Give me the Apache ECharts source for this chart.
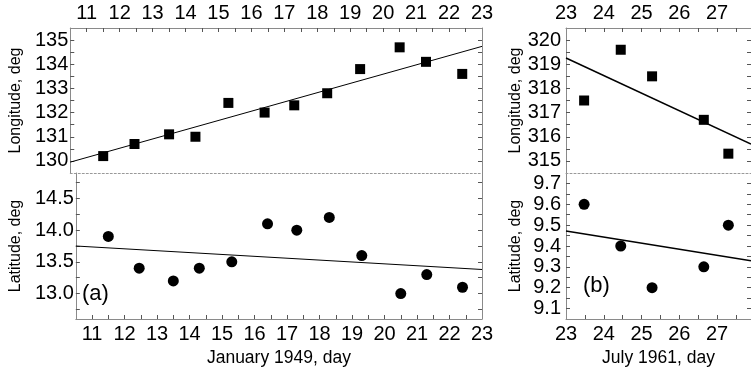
<!DOCTYPE html>
<html>
<head>
<meta charset="utf-8">
<script src="https://cdn.jsdelivr.net/npm/echarts@6/dist/echarts.min.js"></script>
<style>html,body{margin:0;padding:0;background:#fff;}#c{width:751px;height:371px;}</style>
</head>
<body>
<div id="c"></div>
<script>
// ---- Panel (a): January 1949 ----
const daysA = [11.5, 12.45, 13.5, 14.3, 15.3, 16.4, 17.3, 18.3, 19.3, 20.5, 21.3, 22.4];
const lonA  = [130.2, 130.7, 131.1, 131.0, 132.4, 132.0, 132.3, 132.8, 133.8, 134.7, 134.1, 133.6];
const latA  = [13.9, 13.4, 13.2, 13.4, 13.5, 14.1, 14.0, 14.2, 13.6, 13.0, 13.3, 13.1];
const fitLonA = [[10.5, 129.95], [23, 134.74]];
const fitLatA = [[10.5, 13.75], [23, 13.38]];
// ---- Panel (b): July 1961 ----
const daysB = [23.48, 24.45, 25.28, 26.65, 27.3];
const lonB  = [317.5, 319.6, 318.5, 316.7, 315.3];
const latB  = [9.6, 9.4, 9.2, 9.3, 9.5];
const fitLonB = [[23, 319.26], [27.9, 315.70]];
const fitLatB = [[23, 9.472], [27.9, 9.329]];

// ---- tick labels and tick marks ----
const xLabelsA = [11, 12, 13, 14, 15, 16, 17, 18, 19, 20, 21, 22, 23];
const xTicksA = [11, 11.5, 12, 12.5, 13, 13.5, 14, 14.5, 15, 15.5, 16, 16.5, 17, 17.5, 18, 18.5, 19, 19.5, 20, 20.5, 21, 21.5, 22, 22.5];
const xLabelsB = [23, 24, 25, 26, 27];
const xTicksB = [23.5, 24, 24.5, 25, 25.5, 26, 26.5, 27, 27.5];
const yLabelsLonA = [130, 131, 132, 133, 134, 135];
const yTicksLonA = [130, 130.5, 131, 131.5, 132, 132.5, 133, 133.5, 134, 134.5, 135];
const yLabelsLatA = [13.0, 13.5, 14.0, 14.5];
const yTicksLatA = [12.75, 13.0, 13.25, 13.5, 13.75, 14.0, 14.25, 14.5, 14.75];
const yLabelsLonB = [315, 316, 317, 318, 319, 320];
const yTicksLonB = [315, 315.5, 316, 316.5, 317, 317.5, 318, 318.5, 319, 319.5, 320];
const yLabelsLatB = [9.1, 9.2, 9.3, 9.4, 9.5, 9.6, 9.7];
const yTicksLatB = [9.1, 9.15, 9.2, 9.25, 9.3, 9.35, 9.4, 9.45, 9.5, 9.55, 9.6, 9.65, 9.7];

const FONT = '"Liberation Sans", Arial, Helvetica, sans-serif';
const AXC = '#8a8a8a';
const TKC = '#555';
const zip = (xs, ys) => xs.map((x, i) => [x, ys[i]]);

function xAx(grid, pos, min, max, labels, ticks, show, name) {
  const a = {
    type: 'value', gridIndex: grid, position: pos, min: min, max: max,
    axisLine: { show: true, onZero: false, lineStyle: { color: AXC, width: 1 } },
    axisTick: { show: show, inside: true, length: 4, customValues: ticks, lineStyle: { color: TKC } },
    axisLabel: { show: show, customValues: labels, margin: 5, color: '#000', fontSize: 20, fontFamily: FONT },
    splitLine: { show: false }
  };
  if (name) {
    a.name = name; a.nameLocation = 'middle'; a.nameGap = 30;
    a.nameTextStyle = { color: '#000', fontSize: 17.5, fontFamily: FONT };
  }
  return a;
}
function sepAx(grid, min, max) {
  return {
    type: 'value', gridIndex: grid, position: 'bottom', min: min, max: max,
    axisLine: { show: true, onZero: false, lineStyle: { color: '#999', width: 1, type: [2, 2] } },
    axisTick: { show: false }, axisLabel: { show: false }, splitLine: { show: false }
  };
}
function yAx(grid, pos, min, max, labels, ticks, show, name, margin, gap, fmt) {
  const a = {
    type: 'value', gridIndex: grid, position: pos, min: min, max: max,
    axisLine: { show: true, onZero: false, lineStyle: { color: AXC, width: 1 } },
    axisTick: { show: true, inside: true, length: 4, customValues: ticks, lineStyle: { color: TKC } },
    axisLabel: { show: show, customValues: labels, margin: margin, color: '#000', fontSize: 20, fontFamily: FONT,
                 formatter: fmt || (v => String(v)) },
    splitLine: { show: false }
  };
  if (name) {
    a.name = name; a.nameLocation = 'middle'; a.nameGap = gap;
    a.nameTextStyle = { color: '#000', fontSize: 16, fontFamily: FONT };
  }
  return a;
}

const chart = echarts.init(document.getElementById('c'), null, { renderer: 'canvas' });
const fix1 = v => v.toFixed(1);
const option = {
  animation: false,
  backgroundColor: '#fff',
  grid: [
    { left: 63, top: 28, width: 419, height: 145 },
    { left: 63, top: 173, width: 419, height: 146 },
    { left: 566, top: 28, width: 200, height: 145 },
    { left: 566, top: 173, width: 200, height: 146 }
  ],
  xAxis: [
    xAx(0, 'top', 10.5, 23, xLabelsA, xTicksA, true),
    sepAx(0, 10.5, 23),
    xAx(1, 'bottom', 10.5, 23, xLabelsA, xTicksA, true, 'January 1949, day'),
    xAx(2, 'top', 23, 27.9, xLabelsB, xTicksB, true),
    sepAx(2, 23, 27.9),
    xAx(3, 'bottom', 23, 27.9, xLabelsB, xTicksB, true, 'July 1961, day')
  ],
  yAxis: [
    yAx(0, 'left', 129.5, 135.5, yLabelsLonA, yTicksLonA, true, 'Longitude, deg', 2, 44),
    yAx(0, 'right', 129.5, 135.5, yLabelsLonA, yTicksLonA, false),
    yAx(1, 'left', 12.6, 14.9, yLabelsLatA, yTicksLatA, true, 'Latitude, deg', 2, 44, fix1),
    yAx(1, 'right', 12.6, 14.9, yLabelsLatA, yTicksLatA, false),
    yAx(2, 'left', 314.5, 320.5, yLabelsLonB, yTicksLonB, true, 'Longitude, deg', 5, 42),
    yAx(2, 'right', 314.5, 320.5, yLabelsLonB, yTicksLonB, false),
    yAx(3, 'left', 9.05, 9.75, yLabelsLatB, yTicksLatB, true, 'Latitude, deg', 5, 42, fix1),
    yAx(3, 'right', 9.05, 9.75, yLabelsLatB, yTicksLatB, false)
  ],
  series: [
    { type: 'line', xAxisIndex: 0, yAxisIndex: 0, data: fitLonA, showSymbol: false, lineStyle: { color: '#000', width: 1 }, silent: true },
    { type: 'scatter', xAxisIndex: 0, yAxisIndex: 0, data: zip(daysA, lonA), symbol: 'rect', symbolSize: 10, itemStyle: { color: '#000', opacity: 1 } },
    { type: 'line', xAxisIndex: 2, yAxisIndex: 2, data: fitLatA, showSymbol: false, lineStyle: { color: '#000', width: 1 }, silent: true },
    { type: 'scatter', xAxisIndex: 2, yAxisIndex: 2, data: zip(daysA, latA), symbol: 'circle', symbolSize: 11, itemStyle: { color: '#000', opacity: 1 } },
    { type: 'line', xAxisIndex: 3, yAxisIndex: 4, data: fitLonB, showSymbol: false, lineStyle: { color: '#000', width: 1.5 }, silent: true },
    { type: 'scatter', xAxisIndex: 3, yAxisIndex: 4, data: zip(daysB, lonB), symbol: 'rect', symbolSize: 10, itemStyle: { color: '#000', opacity: 1 } },
    { type: 'line', xAxisIndex: 5, yAxisIndex: 6, data: fitLatB, showSymbol: false, lineStyle: { color: '#000', width: 1.5 }, silent: true },
    { type: 'scatter', xAxisIndex: 5, yAxisIndex: 6, data: zip(daysB, latB), symbol: 'circle', symbolSize: 11, itemStyle: { color: '#000', opacity: 1 } }
  ],
  graphic: [
    { type: 'text', left: 82, top: 283, style: { text: '(a)', fill: '#000', font: '22px ' + FONT } },
    { type: 'text', left: 583, top: 275, style: { text: '(b)', fill: '#000', font: '22px ' + FONT } }
  ]
};
chart.setOption(option);
</script>
</body>
</html>
